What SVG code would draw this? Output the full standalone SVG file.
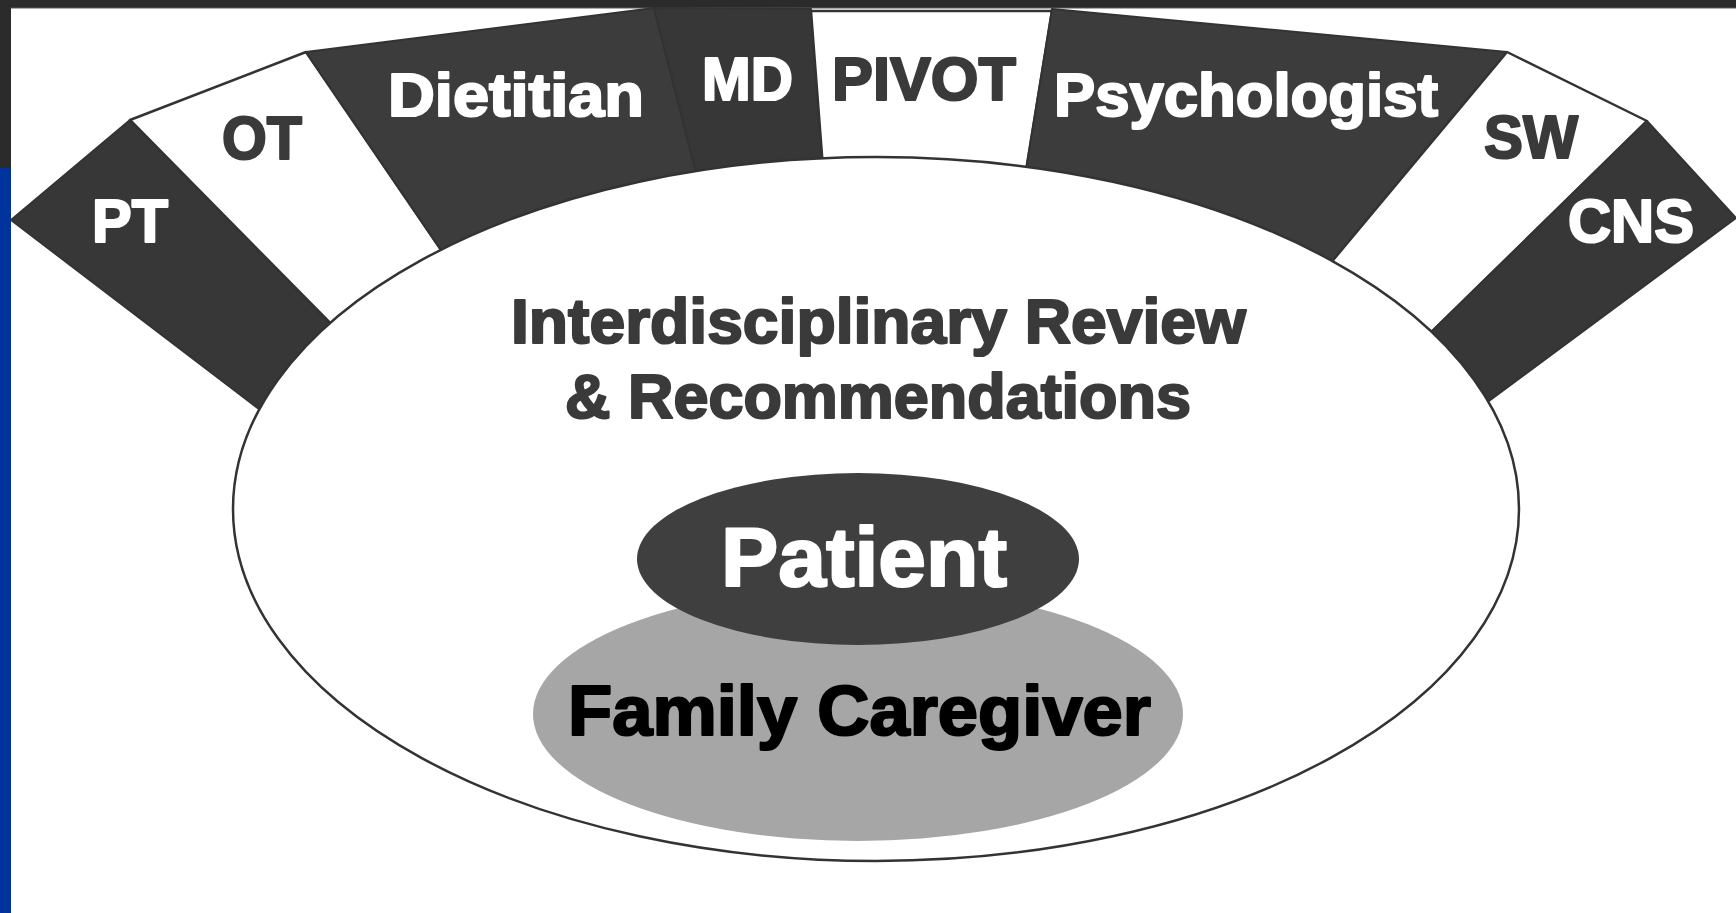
<svg xmlns="http://www.w3.org/2000/svg" width="1736" height="913" viewBox="0 0 1736 913">
  <defs>
    <style>
      .lbl { font-family: "Liberation Sans", Arial, sans-serif; font-weight: bold; stroke-width: 2.2; stroke-linejoin: round; }
      .ring-dark { fill: #3c3c3c; stroke: #333333; stroke-width: 2; stroke-linejoin: round; }
      .ring-dark2 { fill: #373737; stroke: #333333; stroke-width: 2; stroke-linejoin: round; }
      .ring-light { fill: #ffffff; stroke: #333333; stroke-width: 2.5; stroke-linejoin: round; }
      .on-dark { fill: #ffffff; stroke: #ffffff; }
      .on-light { fill: #3a3a3a; stroke: #3a3a3a; }
    </style>
  </defs>

  <!-- page background and frame bars -->
  <rect x="0" y="0" width="1736" height="913" fill="#ffffff"/>
  <rect x="0" y="0" width="1736" height="8" fill="#2b2b2b"/>
  <rect x="0" y="7.5" width="1736" height="1" fill="#5a5a5a"/>
  <rect x="0" y="0" width="11" height="168" fill="#2b2b2b"/>
  <rect x="0" y="168" width="11" height="745" fill="#00339c"/>

  <!-- outer ring of disciplines -->
  <g id="pt">
    <polygon class="ring-dark2" points="11,220 130,120 347,340 280,425"/>
    <text class="lbl on-dark" x="92" y="242" font-size="61" textLength="76" lengthAdjust="spacingAndGlyphs">PT</text>
  </g>
  <g id="ot">
    <polygon class="ring-light" points="130,120 306,52 454,269 347,340"/>
    <text class="lbl on-light" x="222" y="159" font-size="61" textLength="80" lengthAdjust="spacingAndGlyphs">OT</text>
  </g>
  <g id="dietitian">
    <polygon class="ring-dark" points="306,52 654,8 701,192 454,269"/>
    <text class="lbl on-dark" x="388" y="116" font-size="62" textLength="256" lengthAdjust="spacingAndGlyphs">Dietitian</text>
  </g>
  <g id="md">
    <polygon class="ring-dark2" points="654,8 811,9 824,181 701,192"/>
    <text class="lbl on-dark" x="702" y="100" font-size="61" textLength="91" lengthAdjust="spacingAndGlyphs">MD</text>
  </g>
  <g id="pivot">
    <polygon class="ring-light" points="811,11 1052,11 1023,189 824,181"/>
    <text class="lbl on-light" x="832" y="100" font-size="62" textLength="184" lengthAdjust="spacingAndGlyphs">PIVOT</text>
  </g>
  <g id="psychologist">
    <polygon class="ring-dark" points="1052,9 1507,52 1319,277 1023,189"/>
    <text class="lbl on-dark" x="1054" y="116" font-size="62" textLength="384" lengthAdjust="spacingAndGlyphs">Psychologist</text>
  </g>
  <g id="sw">
    <polygon class="ring-light" points="1507,52 1647,121 1416,347 1319,277"/>
    <text class="lbl on-light" x="1484" y="158" font-size="61" textLength="94" lengthAdjust="spacingAndGlyphs">SW</text>
  </g>
  <g id="cns">
    <polygon class="ring-dark2" points="1647,121 1736,218 1470,415 1416,347"/>
    <text class="lbl on-dark" x="1568" y="242" font-size="61" textLength="126" lengthAdjust="spacingAndGlyphs">CNS</text>
  </g>

  <!-- central review area -->
  <g id="review">
    <ellipse cx="876" cy="509" rx="643" ry="352" fill="#ffffff" stroke="#333333" stroke-width="2.5"/>
    <text class="lbl on-light" x="511" y="343" font-size="63" textLength="735" lengthAdjust="spacingAndGlyphs">Interdisciplinary Review</text>
    <text class="lbl on-light" x="565" y="418" font-size="63" textLength="626" lengthAdjust="spacingAndGlyphs">&amp; Recommendations</text>
  </g>

  <g id="family-caregiver">
    <ellipse cx="858" cy="714" rx="325" ry="127" fill="#a6a6a6"/>
    <text class="lbl" fill="#000000" stroke="#000000" x="568" y="735" font-size="70" textLength="583" lengthAdjust="spacingAndGlyphs">Family Caregiver</text>
  </g>

  <g id="patient">
    <ellipse cx="858" cy="559" rx="221" ry="86" fill="#3f3f3f"/>
    <text class="lbl on-dark" x="721" y="586" font-size="84" textLength="286" lengthAdjust="spacingAndGlyphs">Patient</text>
  </g>
</svg>
